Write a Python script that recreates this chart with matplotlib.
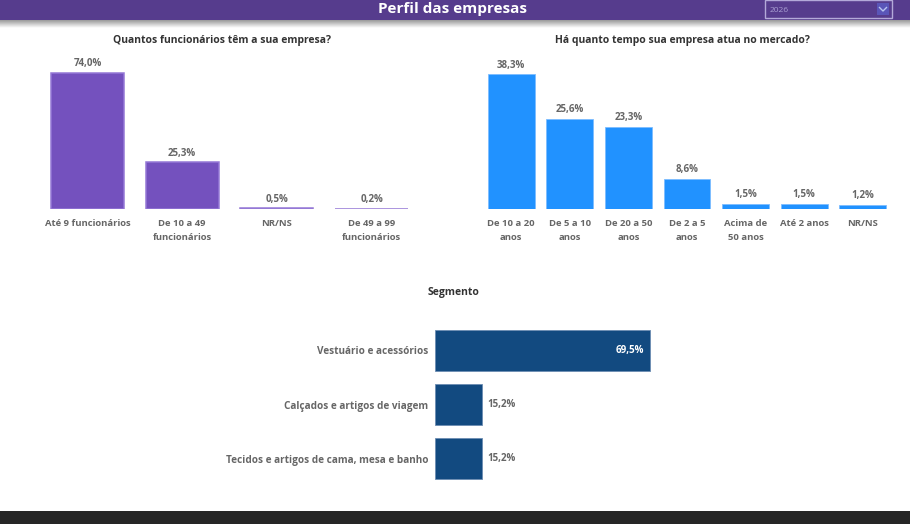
import numpy as np
import matplotlib
matplotlib.use("Agg")
import matplotlib.pyplot as plt
from matplotlib.patches import Rectangle

# data
func_cats = ["Até 9 funcionários", "De 10 a 49\nfuncionários", "NR/NS", "De 49 a 99\nfuncionários"]
func_vals = [74.0, 25.3, 0.5, 0.2]

tempo_cats = ["De 10 a 20\nanos", "De 5 a 10\nanos", "De 20 a 50\nanos", "De 2 a 5\nanos",
              "Acima de\n50 anos", "Até 2 anos", "NR/NS"]
tempo_vals = [38.3, 25.6, 23.3, 8.6, 1.5, 1.5, 1.2]

seg_cats = ["Vestuário e acessórios", "Calçados e artigos de viagem",
            "Tecidos e artigos de cama, mesa e banho"]
seg_vals = [69.5, 15.2, 15.2]

page_title = "Perfil das empresas"
year = "2026"

PURPLE = "#7451BE"
BLUE = "#2192FF"
NAVY = "#124A80"
HEADER = "#563C8D"
GREY = "#666666"
FONT = "Open Sans"

W, H = 910, 524
fig = plt.figure(figsize=(W / 100, H / 100), dpi=100)
fig.patch.set_facecolor("white")


def px_axes(x0, y0, x1, y1):
    # pixel box (top-left origin) -> figure fraction
    return fig.add_axes([x0 / W, 1 - y1 / H, (x1 - x0) / W, (y1 - y0) / H])


def fmt(v):
    return f"{v:.1f}%".replace(".", ",")


# page decorations
bg = px_axes(0, 0, W, H)
bg.axis("off")
bg.add_patch(Rectangle((0, 0), W, 20, color=HEADER, lw=0))
grad = np.linspace(0, 1, 30)[:, None]
bg.imshow(grad, cmap=matplotlib.colors.LinearSegmentedColormap.from_list("s", ["#9a9a9a", "#ffffff"]),
          extent=(0, W, 28, 20), aspect="auto")
bg.add_patch(Rectangle((0, 511), W, 13, color="#262626", lw=0))
bg.text(453, 8.5, page_title, color="white", fontsize=11, fontweight="bold",
        family=FONT, ha="center", va="center")
bg.add_patch(Rectangle((765, 0), 127, 18, facecolor=HEADER, edgecolor="#B3A9D9", lw=1))
bg.text(770, 10, year, color="#A99FD2", fontsize=6, family=FONT, va="center")
bg.add_patch(Rectangle((877, 3), 12, 12, facecolor="#5A55B8", lw=0))
bg.plot([879.5, 883, 886.5], [7.5, 11, 7.5], color="#B8C4F0", lw=1)
bg.set_xlim(0, W)
bg.set_ylim(H, 0)

bg.text(222, 40, "Quantos funcionários têm a sua empresa?", color="#333333",
        fontsize=7.5, family=FONT, fontweight="bold", ha="center", va="center")
bg.text(682, 40, "Há quanto tempo sua empresa atua no mercado?", color="#333333",
        fontsize=7.5, family=FONT, fontweight="bold", ha="center", va="center")
bg.text(453, 292, "Segmento", color="#333333",
        fontsize=7.5, family=FONT, fontweight="bold", ha="center", va="center")


def style(ax):
    ax.patch.set_alpha(0)
    for s in ax.spines.values():
        s.set_visible(False)
    ax.tick_params(length=0)


# left chart
ax1 = px_axes(40, 59, 419, 209)
style(ax1)
x = np.arange(len(func_cats))
ax1.bar(x, func_vals, width=0.77, color=PURPLE, edgecolor="#9478D6", lw=1.1)
ax1.set_xlim(-0.5, len(func_cats) - 0.5)
ax1.set_ylim(0, 150 / 1.84)
ax1.set_yticks([])
ax1.set_xticks(x, func_cats, fontsize=6.8, color=GREY, family=FONT, fontweight="bold", linespacing=1.75)
ax1.tick_params(axis="x", pad=7)
for xi, v in zip(x, func_vals):
    ax1.annotate(fmt(v), (xi, v), xytext=(0, 6.5), textcoords="offset points", ha="center", va="center",
                 fontsize=7, color=GREY, family=FONT, fontweight="bold")

# right chart
ax2 = px_axes(482, 59, 892, 209)
style(ax2)
x = np.arange(len(tempo_cats))
ax2.bar(x, tempo_vals, width=0.80, color=BLUE, edgecolor="#7DBDFF", lw=0.6)
ax2.set_xlim(-0.5, len(tempo_cats) - 0.5)
ax2.set_ylim(0, 150 / 3.52)
ax2.set_yticks([])
ax2.set_xticks(x, tempo_cats, fontsize=6.8, color=GREY, family=FONT, fontweight="bold", linespacing=1.75)
ax2.tick_params(axis="x", pad=7)
for xi, v in zip(x, tempo_vals):
    ax2.annotate(fmt(v), (xi, v), xytext=(0, 6.5), textcoords="offset points", ha="center", va="center",
                 fontsize=7, color=GREY, family=FONT, fontweight="bold")

# bottom chart
ax3 = px_axes(435, 323.5, 780, 485.5)
style(ax3)
y = np.arange(len(seg_cats))
ax3.barh(y, seg_vals, height=0.76, color=NAVY, edgecolor="#6C8DB3", lw=0.6)
ax3.set_ylim(len(seg_cats) - 0.5, -0.5)
ax3.set_xlim(0, 345 / 3.094)
ax3.set_xticks([])
ax3.set_yticks(y, seg_cats, fontsize=7.2, color=GREY, family=FONT, fontweight="bold")
ax3.tick_params(axis="y", pad=5)
for yi, v in zip(y, seg_vals):
    if v > 40:
        ax3.annotate(fmt(v), (v, yi), xytext=(-4, 0), textcoords="offset points", ha="right", va="center",
                     fontsize=7, color="white", family=FONT, fontweight="bold")
    else:
        ax3.annotate(fmt(v), (v, yi), xytext=(4, 0), textcoords="offset points", ha="left", va="center",
                     fontsize=7, color=GREY, family=FONT, fontweight="bold")

fig.savefig("out.png", dpi=100)
